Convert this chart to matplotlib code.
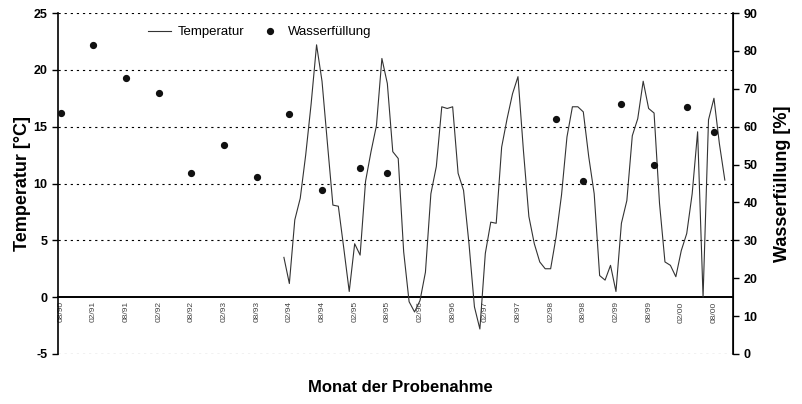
import matplotlib
matplotlib.use("Agg")
import matplotlib.pyplot as plt
import numpy as np

plt.rcParams['font.family'] = ['Liberation Sans', 'DejaVu Sans']

# Month index 0 = 08/90
tick_labels = ["08/90", "02/91", "08/91", "02/92", "08/92", "02/93", "08/93",
               "02/94", "08/94", "02/95", "08/95", "02/96", "08/96", "02/97",
               "08/97", "02/98", "08/98", "02/99", "08/99", "02/00", "08/00"]
tick_months = list(range(0, 121, 6))

temp_months = list(range(41, 123))
temp_values = [3.5, 1.2, 6.8, 8.7, 12.5, 17.0, 22.2, 19.0, 13.5, 8.1,
               8.0, 4.3, 0.5, 4.7, 3.7, 10.2, 12.8, 15.1, 21.0, 18.8,
               12.8, 12.2, 4.0, -0.4, -1.3, -0.3, 2.2, 9.1, 11.5, 16.75,
               16.6, 16.75, 10.9, 9.4, 4.7, -0.85, -2.8, 3.85, 6.6, 6.5,
               13.2, 15.7, 17.9, 19.4, 12.9, 7.1, 4.7, 3.1, 2.5, 2.5,
               5.3, 9.0, 14.1, 16.75, 16.75, 16.3, 12.35, 9.1, 1.9, 1.5,
               2.8, 0.5, 6.5, 8.5, 14.2, 15.7, 19.0, 16.6, 16.2, 8.25,
               3.1, 2.8, 1.8, 4.1, 5.6, 9.1, 14.55, 0.0, 15.6, 17.5,
               13.5, 10.3]

water_months = [0, 6, 12, 18, 24, 30, 36, 42, 48, 55, 60, 91, 96, 103, 109, 115, 120]
water_values = [63.7, 81.5, 72.8, 68.9, 47.7, 55.2, 46.7, 63.4, 43.2, 49.1, 47.9,
                62.1, 45.7, 66.0, 49.9, 65.1, 58.7]

fig = plt.figure(figsize=(8.02, 4.04), dpi=100)
ax = fig.add_axes([58/802, 1-354/404, (733-58)/802, (354-13)/404])
ax2 = ax.twinx()

ax.set_xlim(-0.5, 123.5)
ax.set_ylim(-5, 25)
ax2.set_ylim(0, 90)

for g in [-5, 5, 10, 15, 20, 25]:
    ax.axhline(g, color='black', lw=0.8, ls=(0, (2, 3.5)), zorder=0)

ln, = ax.plot(temp_months, temp_values, color='#333333', lw=0.8, label='Temperatur', zorder=3)
sc, = ax2.plot(water_months, water_values, ls='none', marker='o', ms=4.2,
               color='#111111', label='Wasserfüllung', zorder=4)

ax.spines['top'].set_visible(False)
ax2.spines['top'].set_visible(False)
ax.spines['bottom'].set_position(('data', 0))
ax.spines['bottom'].set_linewidth(1.4)
ax.spines['left'].set_linewidth(1.2)
ax2.spines['right'].set_linewidth(1.2)
ax2.spines['left'].set_visible(False)
ax2.spines['bottom'].set_visible(False)

ax.set_xticks(tick_months)
ax.set_xticklabels(tick_labels, rotation=90, fontsize=6, color='#444444', va='top')
ax.tick_params(axis='x', length=0, pad=3)

ax.set_yticks([-5, 0, 5, 10, 15, 20, 25])
ax.set_yticklabels(["-5", "0", "5", "10", "15", "20", "25"], fontsize=9, fontweight='bold')
ax.tick_params(axis='y', direction='out', length=4, width=1)

ax2.set_yticks(range(0, 91, 10))
ax2.set_yticklabels([str(v) for v in range(0, 91, 10)], fontsize=9, fontweight='bold')
ax2.tick_params(axis='y', direction='out', length=4, width=1)

ax.set_ylabel("Temperatur [°C]", fontsize=13, fontweight='bold', labelpad=2)
ax2.set_ylabel("Wasserfüllung [%]", fontsize=13, fontweight='bold', rotation=90, labelpad=12)
fig.text(400/802, 1-388/404, "Monat der Probenahme", fontsize=12, fontweight='bold',
         ha='center', va='center')

ax2.legend([ln, sc], ['Temperatur', 'Wasserfüllung'], loc='center left',
           bbox_to_anchor=(0.115, 0.944), frameon=False, ncol=2, fontsize=9.5,
           handlelength=1.8, columnspacing=1.0, handletextpad=0.5)

fig.savefig("out.png", dpi=100)
